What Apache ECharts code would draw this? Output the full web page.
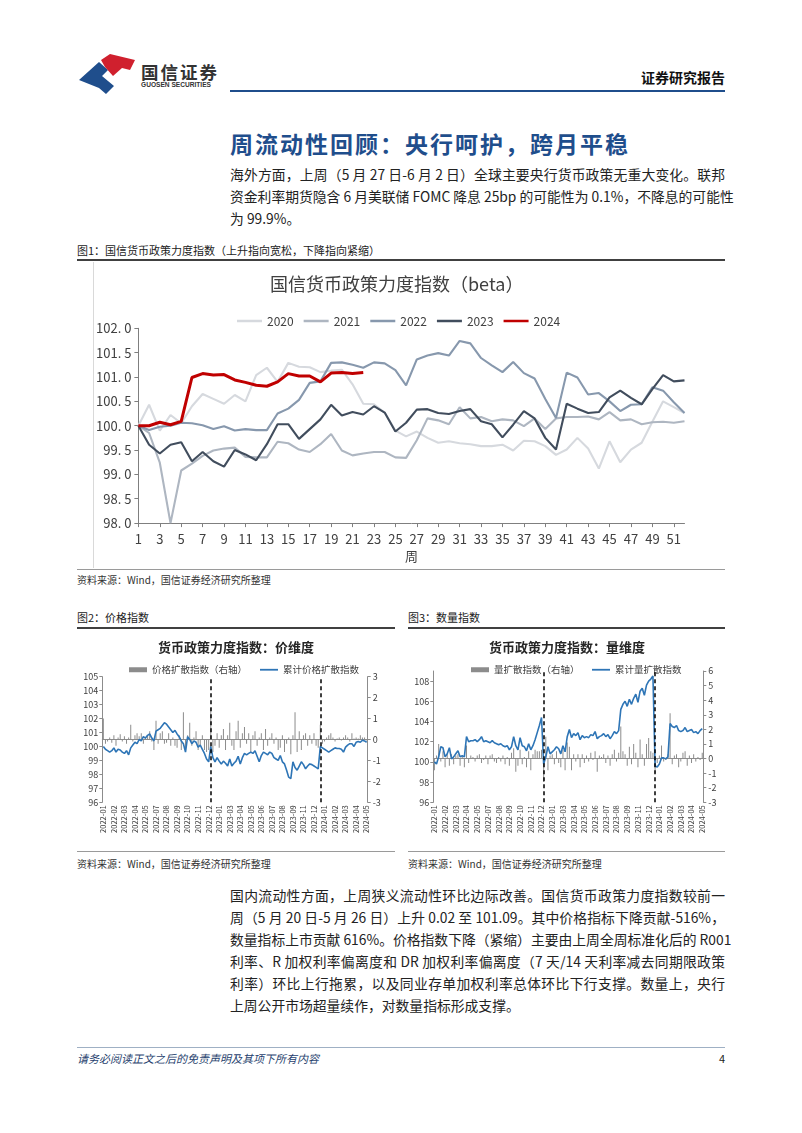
<!DOCTYPE html>
<html><head><meta charset="utf-8">
<script src="https://cdn.jsdelivr.net/npm/echarts@6/dist/echarts.min.js"></script>
<style>
body{margin:0;background:#fff;}
#page{position:relative;width:802px;height:1133px;overflow:hidden;background:#fff;font-family:"Noto Sans CJK SC",sans-serif;color:#222;}
.abs{position:absolute;white-space:nowrap;}
.para{position:absolute;font-size:13.8px;color:#222;}
.para div{white-space:nowrap;text-align:justify;text-align-last:justify;height:22px;line-height:22px;}
.para div.last{text-align-last:left;}
.cap{position:absolute;font-size:11px;color:#222;white-space:nowrap;}
.src{position:absolute;font-size:10px;color:#333;white-space:nowrap;}
</style></head>
<body>
<div id="page">
  <svg class="abs" style="left:77px;top:53px" width="62" height="42" viewBox="0 0 62 42">
    <polygon points="2,27 22,9 31,17 25,23 37,33 29,41 22,35" fill="#1f4e8c"/>
    <polygon points="24,7 33,1 58,7 53,17 45,15 36,23 28,14" fill="#d0202e"/>
  </svg>
  <div class="abs" style="left:141px;top:59px;font-size:17.5px;font-weight:bold;letter-spacing:2px;color:#333;">国信证券</div>
  <div class="abs" style="left:141px;top:81px;font-size:6.6px;font-weight:bold;color:#333;font-family:'Liberation Sans',sans-serif;">GUOSEN SECURITIES</div>
  <div class="abs" style="right:77px;top:67px;font-size:14px;font-weight:bold;color:#111;">证券研究报告</div>
  <div class="abs" style="left:230px;top:90px;width:495px;height:2px;background:#1f4e8c;"></div>

  <div class="abs" style="left:230px;top:126px;font-size:23px;font-weight:bold;letter-spacing:2px;color:#1f4e8c;">周流动性回顾：央行呵护，跨月平稳</div>

  <div class="para" style="left:230px;top:163px;width:495px;">
    <div>海外方面，上周（5 月 27 日-6 月 2 日）全球主要央行货币政策无重大变化。联邦</div>
    <div>资金利率期货隐含 6 月美联储 FOMC 降息 25bp 的可能性为 0.1%，不降息的可能性</div>
    <div class="last">为 99.9%。</div>
  </div>

  <div class="cap" style="left:77px;top:242px;">图1：国信货币政策力度指数（上升指向宽松，下降指向紧缩）</div>
  <div class="abs" style="left:77px;top:259px;width:648px;height:1.5px;background:#404040;"></div>
  <div class="abs" style="left:93px;top:262px;width:1px;height:306px;background:#d9d9d9;"></div>
  <div id="main" class="abs" style="left:93px;top:262px;width:632px;height:306px;"></div>
  <div class="abs" style="left:77px;top:569px;width:648px;height:1px;background:#9a9a9a;"></div>
  <div class="src" style="left:77px;top:572px;">资料来源：Wind，国信证券经济研究所整理</div>

  <div class="cap" style="left:77px;top:609px;">图2：价格指数</div>
  <div class="abs" style="left:77px;top:627px;width:318px;height:1.5px;background:#404040;"></div>
  <div class="cap" style="left:408px;top:609px;">图3：数量指数</div>
  <div class="abs" style="left:408px;top:627px;width:317px;height:1.5px;background:#404040;"></div>
  <div id="price" class="abs" style="left:77px;top:632px;width:318px;height:216px;"></div>
  <div id="qty" class="abs" style="left:408px;top:632px;width:318px;height:216px;"></div>
  <div class="abs" style="left:77px;top:851px;width:318px;height:1px;background:#9a9a9a;"></div>
  <div class="abs" style="left:408px;top:851px;width:317px;height:1px;background:#9a9a9a;"></div>
  <div class="src" style="left:77px;top:856px;">资料来源：Wind，国信证券经济研究所整理</div>
  <div class="src" style="left:408px;top:856px;">资料来源：Wind，国信证券经济研究所整理</div>

  <div class="para" style="left:230px;top:884px;width:495px;">
    <div>国内流动性方面，上周狭义流动性环比边际改善。国信货币政策力度指数较前一</div>
    <div>周（5 月 20 日-5 月 26 日）上升 0.02 至 101.09。其中价格指标下降贡献-516%，</div>
    <div>数量指标上市贡献 616%。价格指数下降（紧缩）主要由上周全周标准化后的 R001</div>
    <div>利率、R 加权利率偏离度和 DR 加权利率偏离度（7 天/14 天利率减去同期限政策</div>
    <div>利率）环比上行拖累，以及同业存单加权利率总体环比下行支撑。数量上，央行</div>
    <div class="last">上周公开市场超量续作，对数量指标形成支撑。</div>
  </div>

  <div class="abs" style="left:77px;top:1047px;width:648px;height:1px;background:#9fb0c4;"></div>
  <div class="abs" style="left:77px;top:1050px;font-size:11px;font-style:italic;color:#1f3f6e;">请务必阅读正文之后的免责声明及其项下所有内容</div>
  <div class="abs" style="left:719px;top:1050px;font-size:11px;color:#222;">4</div>
</div>
<script>
// ---------- main chart data ----------
const weekLabels = Array.from({length:52},(_,i)=>String(i+1));
const yearNames = ['2020','2021','2022','2023','2024'];
const s2020 = [100.0,100.43,99.9,100.22,100.05,100.4,100.65,100.55,100.45,100.63,100.5,101.04,101.19,100.9,101.29,101.21,101.2,101.1,101.13,101.15,100.85,100.45,100.44,100.27,99.9,99.78,99.88,99.75,99.65,99.68,99.64,99.62,99.58,99.58,99.61,99.49,99.69,99.68,99.58,99.4,99.51,99.75,99.53,99.12,99.68,99.25,99.51,99.65,100.08,100.5,100.38,100.26];
const s2021 = [100.0,99.85,99.24,98.0,99.08,99.22,99.38,99.49,99.53,99.55,99.36,99.35,99.35,99.67,99.64,99.51,99.46,99.62,99.83,99.49,99.39,99.43,99.46,99.46,99.35,99.34,99.7,100.15,100.11,100.03,100.38,100.15,100.18,100.09,100.13,100.11,99.99,100.15,99.93,100.15,100.18,100.18,100.19,100.13,100.28,100.11,100.13,100.03,100.07,100.08,100.06,100.09];
const s2022 = [100.0,99.91,99.98,100.0,100.06,100.05,100.01,99.93,99.99,99.9,99.93,99.91,99.91,100.25,100.35,100.53,100.88,100.91,101.29,101.3,101.25,101.19,101.3,101.28,101.14,100.83,101.36,101.44,101.49,101.44,101.74,101.69,101.39,101.24,101.1,101.31,101.08,100.97,100.55,100.16,101.09,100.99,100.64,100.67,100.5,100.3,100.43,100.44,100.79,100.72,100.48,100.26];
const s2023 = [100.0,99.61,99.43,99.61,99.66,99.27,99.46,99.27,99.16,99.5,99.41,99.29,99.62,100.03,100.03,99.73,99.93,100.13,100.43,100.21,100.28,100.23,100.4,100.27,99.88,100.06,100.33,100.34,100.26,100.24,100.3,100.34,100.09,100.03,99.76,100.02,100.3,100.15,99.75,99.51,100.45,100.35,100.26,100.28,100.58,100.72,100.57,100.44,100.75,101.04,100.91,100.93];
const s2024 = [100.0,100.0,100.07,100.02,100.09,100.99,101.07,101.04,101.05,100.94,100.89,100.83,100.81,100.9,101.07,101.02,101.02,100.9,101.08,101.09,101.07,101.09];

// ---------- price dimension (fig 2) ----------
const priceLine2022 = [100.0,99.8,99.7,99.6,99.7,99.9,99.6,99.8,99.75,99.6,99.5,99.7,99.4,99.9,100.1,100.3,100.2,100.5,100.4,100.7,100.6,100.8,100.9,100.6,100.4,101.1,101.2,101.3,101.5,101.7,101.6,101.4,101.2,101.0,101.15,100.9,100.7,100.4,100.2,99.6,100.7,100.5,100.2,100.4,100.3,99.95,100.1,99.8,99.5,99.1,98.9];
const priceLine2023 = [100.0,99.2,98.9,99.2,98.95,98.75,98.95,98.8,98.6,99.1,98.6,98.8,98.95,99.3,98.75,99.2,99.5,99.4,99.5,99.6,99.5,99.7,99.3,98.9,99.35,99.6,99.5,99.4,99.6,99.5,99.2,99.1,99.0,99.35,98.9,98.75,98.3,97.8,97.7,98.9,98.5,98.3,98.6,98.9,98.7,98.4,98.6,98.75,98.7,98.6,98.5,98.4];
const priceLine2024 = [100.0,99.9,99.8,99.7,99.6,99.7,99.8,99.9,99.85,99.85,99.8,99.6,99.95,100.1,100.2,100.2,100.0,100.3,100.35,100.3,100.45,100.4,100.3];
const priceBar2022 = [1.0,-0.2,-0.1,0.1,-0.15,0.2,-0.3,0.1,0.25,-0.1,0.15,-0.2,0.1,0.7,-0.1,0.2,0.3,0.15,0.3,-0.2,0.1,0.2,0.4,-0.1,-0.5,0.9,-0.2,0.3,0.4,-0.2,-0.15,0.3,-0.3,0.1,-0.3,-0.4,0.2,-0.5,1.3,-0.6,0.2,0.8,-0.3,0.1,0.4,-0.5,-0.3,0.2,-0.5,-0.6,-0.5];
const priceBar2023 = [1.5,-0.6,-0.3,0.3,-0.4,0.2,0.5,-0.5,0.2,0.8,-0.3,-0.5,0.4,0.9,-0.4,0.3,0.6,-0.2,0.3,-0.6,0.2,0.4,-0.3,0.1,0.3,-0.5,0.5,-0.3,0.1,0.3,-0.2,0.1,-0.5,-0.4,0.2,-0.6,-0.2,0.1,-0.7,0.2,1.3,-0.6,0.4,-0.5,0.2,0.3,-0.3,0.2,-0.2,0.3,-0.3,-0.4];
const priceBar2024 = [0.7,-0.2,-0.1,0.1,0.2,0.3,0.1,-0.1,0.05,0.1,-0.05,0.1,0.2,0.1,-0.1,0.3,0.05,0.1,0.05,0.2,0.1,0.1,-0.05];

// ---------- quantity dimension (fig 3) ----------
const qtyLine2022 = [100.0,99.8,100.5,101.5,101.4,100.5,100.8,101.4,100.3,100.5,100.8,101.1,100.5,100.6,100.5,102.5,102.0,102.1,102.1,102.2,102.0,102.2,102.5,102.0,102.1,102.0,101.9,102.1,101.9,101.8,101.7,101.8,101.6,101.5,101.6,101.2,101.5,102.5,101.6,101.2,102.4,101.6,101.5,101.1,101.8,101.2,101.6,102.2,102.9,103.6,104.4];
const qtyLine2023 = [99.8,100.5,101.5,100.8,101.0,101.2,101.5,101.3,100.8,101.6,101.0,102.5,103.2,102.4,102.8,102.6,102.9,102.2,102.6,102.4,102.5,102.4,102.7,102.6,103.0,102.3,102.5,102.6,102.8,102.5,102.7,102.3,102.6,103.0,102.8,103.1,105.2,105.7,106.0,105.5,106.2,105.7,106.3,106.7,105.9,107.0,107.3,106.6,107.6,108.0,108.2,108.5];
const qtyLine2024 = [99.6,99.5,99.8,100.4,100.4,100.3,100.5,103.8,103.5,103.4,103.6,103.1,103.0,103.1,103.4,103.0,103.1,103.2,102.9,103.0,102.8,103.1,103.3];
const qtyBar2022 = [-0.8,0.2,1.0,-0.2,0.5,-0.6,0.3,-0.5,0.3,-0.4,0.2,0.3,-0.5,0.2,-0.6,0.9,-0.3,0.2,0.1,-0.2,0.2,0.3,-0.3,-0.1,0.2,-0.4,0.2,0.3,-0.2,-0.3,0.1,-0.2,0.2,-0.4,0.1,-0.5,0.4,0.7,-0.9,-0.5,0.6,-0.4,0.1,-0.6,0.5,-0.8,0.3,0.6,0.5,0.5,0.6];
const qtyBar2023 = [-1.6,1.5,-0.8,0.2,0.3,-0.4,0.5,-0.3,-0.6,0.6,-0.8,1.1,0.8,-0.8,0.3,-0.2,0.3,-0.6,0.3,-0.3,0.2,-0.2,0.4,-0.1,0.5,-0.9,0.2,0.1,0.3,-0.3,0.2,-0.5,0.3,0.6,-0.2,0.4,2.2,0.5,0.3,-0.5,0.8,-0.4,1.0,0.4,-0.6,1.3,0.3,-0.5,1.0,1.4,0.5,0.4];
const qtyBar2024 = [-1.0,-0.3,0.2,0.9,-0.2,-0.1,0.3,3.1,-0.4,0.2,0.3,-0.6,-0.2,0.4,0.5,-0.5,0.2,-0.3,0.3,-0.2,0.1,-0.1,0.4];

const FONT = '"Noto Sans CJK SC", sans-serif';

// ---------- main chart ----------
const mainColors = ['#d6d9de','#aeb6c1','#8798ad','#414d5d','#c00000'];
const mainData = [s2020,s2021,s2022,s2023,s2024];
const main = echarts.init(document.getElementById('main'), null, {renderer:'canvas'});
main.setOption({
  animation:false,
  textStyle:{fontFamily:FONT},
  title:{text:'国信货币政策力度指数（beta）', left:172, top:8,
    textStyle:{fontSize:18,fontWeight:'normal',color:'#404040',fontFamily:FONT}},
  legend:{left:139, top:48, icon:'rect', itemWidth:25, itemHeight:2.5, itemGap:10,
    textStyle:{fontSize:12,color:'#404040',fontFamily:FONT}, data:yearNames},
  grid:{left:44.3, top:66.3, width:547.2, height:198.4},
  xAxis:{type:'category', boundaryGap:false, data:weekLabels,
    name:'周', nameLocation:'middle', nameGap:21,
    nameTextStyle:{fontSize:13,color:'#404040'},
    axisLine:{lineStyle:{color:'#7f7f7f',width:1}},
    axisTick:{interval:1,length:4,lineStyle:{color:'#7f7f7f'}},
    axisLabel:{interval:1,fontSize:13,color:'#404040',margin:9}},
  yAxis:{type:'value', min:98, max:102, interval:0.5,
    axisLine:{show:true,lineStyle:{color:'#7f7f7f',width:1}},
    axisTick:{show:true,length:4,lineStyle:{color:'#7f7f7f'}},
    splitLine:{show:false},
    axisLabel:{fontSize:13,color:'#404040',margin:7,formatter:v=>v.toFixed(1).replace('.','. ')}},
  series:yearNames.map((n,i)=>({
    name:n, type:'line', data:mainData[i], symbol:'none', showSymbol:false,
    lineStyle:{width:i===4?3:2.1,color:mainColors[i]}, itemStyle:{color:mainColors[i]},
    z:2+i
  }))
});

// ---------- small charts ----------
function weeklyDates(start,n){
  const out=[]; const t0=Date.parse(start+'T00:00:00Z');
  for(let i=0;i<n;i++){ out.push(new Date(t0+i*7*86400000).toISOString().slice(0,10)); }
  return out;
}
function smallOption(cfg){
  const line = cfg.line[0].concat(cfg.line[1],cfg.line[2]);
  const bar = cfg.bar[0].concat(cfg.bar[1],cfg.bar[2]);
  const cats = weeklyDates('2022-01-07', line.length);
  const b1 = cfg.line[0].length, b2 = b1 + cfg.line[1].length;
  const axisCol = '#8c8c8c', labCol = '#404040';
  const legText = {fontSize:9.5,color:labCol,fontFamily:FONT};
  return {
    animation:false,
    textStyle:{fontFamily:FONT},
    title:{text:cfg.title,left:'center',top:4,textStyle:{fontSize:13,fontWeight:'bold',color:'#262626',fontFamily:FONT}},
    legend:[
      {top:28,left:cfg.legendLeft[0],icon:'rect',itemWidth:18,itemHeight:5,textStyle:legText,data:[cfg.barName]},
      {top:28,left:cfg.legendLeft[1],icon:'rect',itemWidth:18,itemHeight:1.8,textStyle:legText,data:[cfg.lineName]}
    ],
    grid:cfg.grid,
    xAxis:{type:'category',data:cats,boundaryGap:true,
      axisLine:{lineStyle:{color:axisCol}},
      axisTick:{interval:4,length:3,lineStyle:{color:axisCol}},
      axisLabel:{rotate:90,interval:4,fontSize:7.5,color:labCol,margin:3,formatter:v=>v.slice(0,7)}},
    yAxis:[
      {type:'value',min:cfg.left[0],max:cfg.left[1],interval:cfg.left[2],position:'left',
        axisLine:{show:true,lineStyle:{color:axisCol}},axisTick:{show:true,length:3,lineStyle:{color:axisCol}},
        splitLine:{show:false},axisLabel:{fontSize:9,color:labCol,margin:4,showMaxLabel:cfg.left[3]}},
      {type:'value',min:cfg.right[0],max:cfg.right[1],interval:1,position:'right',
        axisLine:{show:true,lineStyle:{color:axisCol}},axisTick:{show:true,length:3,lineStyle:{color:axisCol}},
        splitLine:{show:false},axisLabel:{fontSize:9,color:labCol,margin:5}}
    ],
    series:[
      {name:cfg.barName,type:'bar',yAxisIndex:1,data:bar,barWidth:1,itemStyle:{color:'#8c8c8c'},z:1},
      {name:cfg.lineName,type:'line',yAxisIndex:0,data:line,symbol:'none',showSymbol:false,
        lineStyle:{width:1.6,color:'#2e75b6'},itemStyle:{color:'#2e75b6'},z:3,
        markLine:{symbol:'none',silent:true,label:{show:false},
          lineStyle:{type:[4,3],color:'#000',width:1.5},
          data:[{xAxis:b1},{xAxis:b2}]}}
    ]
  };
}
echarts.init(document.getElementById('price')).setOption(smallOption({
  title:'货币政策力度指数：价维度', barName:'价格扩散指数（右轴）', lineName:'累计价格扩散指数',
  legendLeft:[47,178], grid:{left:25.3,top:44.7,width:265.4,height:125.6},
  left:[96,105,1,true], right:[-3,3],
  line:[priceLine2022,priceLine2023,priceLine2024], bar:[priceBar2022,priceBar2023,priceBar2024]
}));
echarts.init(document.getElementById('qty')).setOption(smallOption({
  title:'货币政策力度指数：量维度', barName:'量扩散指数（右轴）', lineName:'累计量扩散指数',
  legendLeft:[58,179], grid:{left:25.3,top:39,width:270,height:131.3},
  left:[96,109,2,false], right:[-3,6],
  line:[qtyLine2022,qtyLine2023,qtyLine2024], bar:[qtyBar2022,qtyBar2023,qtyBar2024]
}));
</script>
</body></html>
